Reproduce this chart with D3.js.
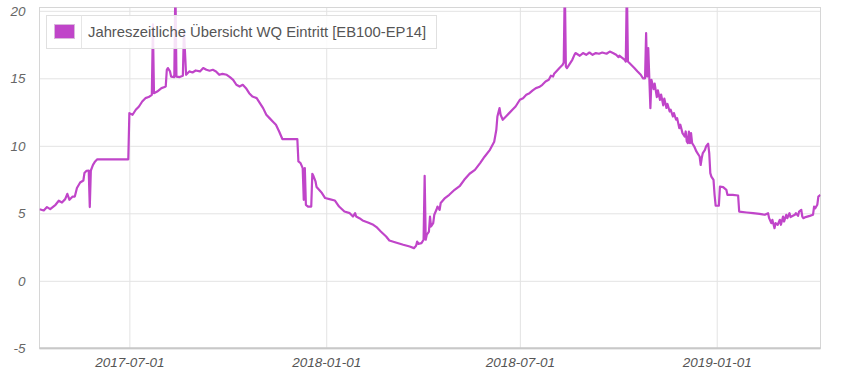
<!DOCTYPE html>
<html>
<head>
<meta charset="utf-8">
<script src="https://cdn.jsdelivr.net/npm/d3@7"></script>
<style>
  body { margin: 0; background: #fff; }
  svg { display: block; }
</style>
</head>
<body>
<svg width="850" height="375"></svg>
<script>
// daily readings
var dates = [
  '2017-04-08','2017-04-12','2017-04-15','2017-04-18','2017-04-23','2017-04-26','2017-04-29','2017-05-02','2017-05-04','2017-05-06',
  '2017-05-09','2017-05-11','2017-05-13','2017-05-16','2017-05-19','2017-05-20','2017-05-22','2017-05-24','2017-05-25','2017-05-26',
  '2017-05-28','2017-05-30','2017-06-01','2017-06-30','2017-07-01','2017-07-04','2017-07-07','2017-07-10','2017-07-13','2017-07-16',
  '2017-07-19','2017-07-22','2017-07-23','2017-07-24','2017-07-27','2017-07-31','2017-08-03','2017-08-04','2017-08-05','2017-08-06',
  '2017-08-08','2017-08-09','2017-08-12','2017-08-13','2017-08-14','2017-08-17','2017-08-20','2017-08-21','2017-08-23','2017-08-26',
  '2017-08-29','2017-09-01','2017-09-05','2017-09-08','2017-09-11','2017-09-14','2017-09-17','2017-09-20','2017-09-23','2017-09-26',
  '2017-09-30','2017-10-03','2017-10-06','2017-10-09','2017-10-12','2017-10-15','2017-10-18','2017-10-21','2017-10-24','2017-10-28',
  '2017-10-31','2017-11-03','2017-11-06','2017-11-09','2017-11-12','2017-11-15','2017-11-18','2017-11-21','2017-12-05','2017-12-06',
  '2017-12-08','2017-12-10','2017-12-11','2017-12-12','2017-12-13','2017-12-15','2017-12-18','2017-12-19','2017-12-20','2017-12-22',
  '2017-12-23','2017-12-28','2017-12-31','2018-01-04','2018-01-09','2018-01-13','2018-01-18','2018-01-23','2018-01-26','2018-01-28',
  '2018-01-29','2018-02-01','2018-02-04','2018-02-09','2018-02-14','2018-02-17','2018-02-21','2018-02-26','2018-03-01','2018-03-07',
  '2018-03-14','2018-03-20','2018-03-24','2018-03-26','2018-03-27','2018-03-28','2018-03-31','2018-04-02','2018-04-03','2018-04-04',
  '2018-04-05','2018-04-07','2018-04-08','2018-04-09','2018-04-11','2018-04-12','2018-04-14','2018-04-15','2018-04-17','2018-04-18',
  '2018-04-22','2018-04-26','2018-05-01','2018-05-06','2018-05-10','2018-05-15','2018-05-20','2018-05-25','2018-05-29','2018-06-03',
  '2018-06-07','2018-06-09','2018-06-10','2018-06-12','2018-06-13','2018-06-15','2018-06-18','2018-06-21','2018-06-24','2018-06-27',
  '2018-07-01','2018-07-04','2018-07-07','2018-07-10','2018-07-13','2018-07-16','2018-07-19','2018-07-22','2018-07-25','2018-07-28',
  '2018-07-30','2018-08-01','2018-08-02','2018-08-04','2018-08-07','2018-08-10','2018-08-11','2018-08-12','2018-08-13','2018-08-14',
  '2018-08-16','2018-08-19','2018-08-21','2018-08-22','2018-08-26','2018-08-29','2018-09-01','2018-09-04','2018-09-07','2018-09-10',
  '2018-09-13','2018-09-16','2018-09-20','2018-09-23','2018-09-26','2018-09-29','2018-10-01','2018-10-02','2018-10-05','2018-10-07',
  '2018-10-08','2018-10-09','2018-10-10','2018-10-13','2018-10-16','2018-10-19','2018-10-22','2018-10-24','2018-10-26','2018-10-27',
  '2018-10-28','2018-10-29','2018-10-30','2018-10-31','2018-11-01','2018-11-03','2018-11-04','2018-11-06','2018-11-07','2018-11-09',
  '2018-11-10','2018-11-12','2018-11-13','2018-11-15','2018-11-16','2018-11-18','2018-11-19','2018-11-21','2018-11-22','2018-11-24',
  '2018-11-25','2018-11-27','2018-11-28','2018-11-30','2018-12-02','2018-12-03','2018-12-04','2018-12-05','2018-12-06','2018-12-07',
  '2018-12-08','2018-12-09','2018-12-11','2018-12-13','2018-12-14','2018-12-16','2018-12-17','2018-12-18','2018-12-19','2018-12-21',
  '2018-12-22','2018-12-24','2018-12-25','2018-12-26','2018-12-27','2018-12-29','2018-12-30','2018-12-31','2019-01-03','2019-01-04',
  '2019-01-07','2019-01-10','2019-01-11','2019-01-16','2019-01-21','2019-01-22','2019-01-29','2019-02-04','2019-02-10','2019-02-15',
  '2019-02-18','2019-02-19','2019-02-21','2019-02-22','2019-02-24','2019-02-25','2019-02-27','2019-03-01','2019-03-02','2019-03-04',
  '2019-03-05','2019-03-07','2019-03-08','2019-03-10','2019-03-11','2019-03-15','2019-03-16','2019-03-18','2019-03-19','2019-03-21',
  '2019-03-22','2019-03-23','2019-03-25','2019-03-29','2019-04-01','2019-04-02','2019-04-03','2019-04-05','2019-04-06','2019-04-08'
];

var values = [
  5.3, 5.21, 5.46, 5.31, 5.63, 5.93, 5.8, 6.05, 6.44, 6.0,
  6.24, 6.24, 6.87, 7.28, 7.43, 7.98, 8.15, 8.17, 5.46, 8.17,
  8.59, 8.84, 9.0, 9.0, 12.42, 12.3, 12.67, 12.91, 13.28, 13.53,
  13.61, 13.78, 19.0, 13.9, 14.02, 14.27, 14.35, 14.4, 15.63, 15.76,
  15.51, 15.13, 15.09, 22, 15.13, 15.09, 15.19, 18.6, 15.26, 15.51,
  15.43, 15.58, 15.51, 15.76, 15.63, 15.56, 15.63, 15.51, 15.26, 15.33,
  15.26, 15.09, 14.89, 14.52, 14.39, 14.52, 14.27, 13.9, 13.65, 13.53,
  13.16, 12.79, 12.3, 12.05, 11.8, 11.56, 11.06, 10.5, 10.5, 8.84,
  8.72, 8.35, 6.0, 8.35, 5.63, 5.5, 5.5, 7.93, 7.78, 7.36,
  6.94, 6.5, 6.13, 6.05, 5.95, 5.5, 5.13, 5.01, 4.76, 5.01,
  4.76, 4.64, 4.47, 4.32, 4.15, 3.98, 3.65, 3.28, 2.99, 2.84,
  2.67, 2.54, 2.42, 2.59, 2.91, 2.74, 2.79, 3.04, 7.78, 3.04,
  3.41, 3.65, 4.76, 4.02, 4.27, 4.89, 5.26, 5.5, 5.26, 5.76,
  6.13, 6.37, 6.74, 7.04, 7.48, 7.93, 8.22, 8.74, 9.19, 9.7,
  10.3, 11.19, 12.17, 12.79, 12.3, 11.93, 12.17, 12.42, 12.67, 12.91,
  13.41, 13.53, 13.78, 13.9, 14.1, 14.27, 14.35, 14.52, 14.76, 14.89,
  15.19, 15.13, 15.33, 15.5, 15.76, 16.0, 16.17, 22, 15.87, 15.76,
  16.0, 16.37, 16.74, 16.87, 16.67, 16.87, 16.74, 16.91, 16.74, 16.87,
  16.82, 16.91, 16.82, 16.98, 16.87, 16.74, 16.57, 16.67, 16.5, 16.37,
  16.24, 22, 16.24, 16.0, 15.76, 15.5, 15.26, 15.0, 15.0, 18.35,
  15.13, 17.24, 15.0, 12.79, 14.89, 14.2, 14.6, 13.6, 14.1, 13.4,
  13.8, 13.0, 13.5, 12.8, 13.1, 12.54, 12.67, 12.17, 12.42, 11.93,
  12.05, 11.31, 11.56, 10.94, 10.69, 11.06, 10.32, 10.2, 11.06, 10.2,
  10.94, 10.2, 9.95, 9.58, 9.46, 9.21, 8.58, 9.09, 9.46, 9.7,
  9.95, 10.15, 9.46, 7.98, 7.72, 7.48, 6.37, 5.56, 5.56, 6.98,
  6.94, 6.74, 6.37, 6.37, 6.32, 5.13, 5.06, 5.01, 4.96, 4.89,
  5.01, 4.64, 4.27, 4.52, 3.9, 4.27, 4.15, 4.52, 4.15, 4.76,
  4.39, 4.89, 4.64, 5.01, 4.72, 4.89, 5.01, 4.81, 5.13, 5.26,
  4.76, 4.64, 4.72, 4.81, 4.89, 5.5, 5.37, 5.63, 6.24, 6.37
];

var yTicks = [-5, 0, 5, 10, 15, 20];
var xTicks = ['2017-07-01', '2018-01-01', '2018-07-01', '2019-01-01'];
var seriesName = 'Jahreszeitliche Übersicht WQ Eintritt [EB100-EP14]';
var lineColor = '#c045c9';

var parse = d3.timeParse('%Y-%m-%d');
var data = dates.map(function(d, i) {
    return {date: parse(d), value: values[i]};
});

// plot box (window.top is taken, so own names)
var plotLeft = 39.5, plotRight = 820.5, plotTop = 7.5, plotBottom = 348.3;

var scaleX = d3.scaleTime()
    .domain(d3.extent(data, function(d) { return d.date; }))
    .range([plotLeft, plotRight]);
var scaleY = d3.scaleLinear().domain([-5, 20]).range([plotBottom, 10.8]);

var svg = d3.select('svg');

svg.append('defs').append('clipPath')
    .attr('id', 'plot')
    .append('rect')
    .attr('x', plotLeft).attr('y', plotTop)
    .attr('width', plotRight - plotLeft).attr('height', plotBottom - plotTop);

// y grid + labels
var yAxis = svg.append('g')
    .attr('transform', 'translate(' + plotLeft + ',0)')
    .call(d3.axisLeft(scaleY)
        .tickValues(yTicks)
        .tickFormat(function(d) { return String(d); })
        .tickSize(-(plotRight - plotLeft))
        .tickPadding(14));
yAxis.select('.domain').remove();
yAxis.selectAll('line').attr('stroke', '#e3e3e3');
yAxis.selectAll('text')
    .attr('fill', '#666')
    .style('font', 'italic 13.5px "Liberation Sans", Arial, sans-serif');

// x grid + labels
var xAxis = svg.append('g')
    .attr('transform', 'translate(0,' + plotBottom + ')')
    .call(d3.axisBottom(scaleX)
        .tickValues(xTicks.map(parse))
        .tickFormat(d3.timeFormat('%Y-%m-%d'))
        .tickSize(-(plotBottom - plotTop))
        .tickPadding(9));
xAxis.select('.domain').remove();
xAxis.selectAll('line').attr('stroke', '#e3e3e3');
xAxis.selectAll('text')
    .attr('fill', '#555')
    .style('font', 'italic 13.5px "Liberation Sans", Arial, sans-serif');

// frame
svg.append('rect')
    .attr('x', plotLeft).attr('y', plotTop)
    .attr('width', plotRight - plotLeft).attr('height', plotBottom - plotTop)
    .attr('fill', 'none')
    .attr('stroke', '#d6d6d6');
svg.append('line')
    .attr('x1', plotLeft).attr('x2', plotRight)
    .attr('y1', plotBottom).attr('y2', plotBottom)
    .attr('stroke', '#c8c8c8')
    .attr('stroke-width', 2);

var line = d3.line()
    .x(function(d) { return scaleX(d.date); })
    .y(function(d) { return scaleY(d.value); });

svg.append('path')
    .datum(data)
    .attr('clip-path', 'url(#plot)')
    .attr('d', line)
    .attr('fill', 'none')
    .attr('stroke', lineColor)
    .attr('stroke-width', 2.2)
    .attr('stroke-linejoin', 'round');

// legend
var legend = svg.append('g');
legend.append('rect')
    .attr('x', 46.5).attr('y', 15.5)
    .attr('width', 390).attr('height', 33)
    .attr('fill', '#fff').attr('fill-opacity', 0.85)
    .attr('stroke', '#e0e0e0');
legend.append('line')
    .attr('x1', 81.5).attr('x2', 81.5)
    .attr('y1', 15.5).attr('y2', 48.5)
    .attr('stroke', '#e6e6e6');
legend.append('rect')
    .attr('x', 54.5).attr('y', 24.5)
    .attr('width', 20).attr('height', 14)
    .attr('fill', lineColor)
    .attr('stroke', '#d9b8dc');
legend.append('text')
    .attr('x', 88).attr('y', 37)
    .attr('fill', '#555')
    .style('font', '14.8px "Liberation Sans", Arial, sans-serif')
    .text(seriesName);
</script>
</body>
</html>
